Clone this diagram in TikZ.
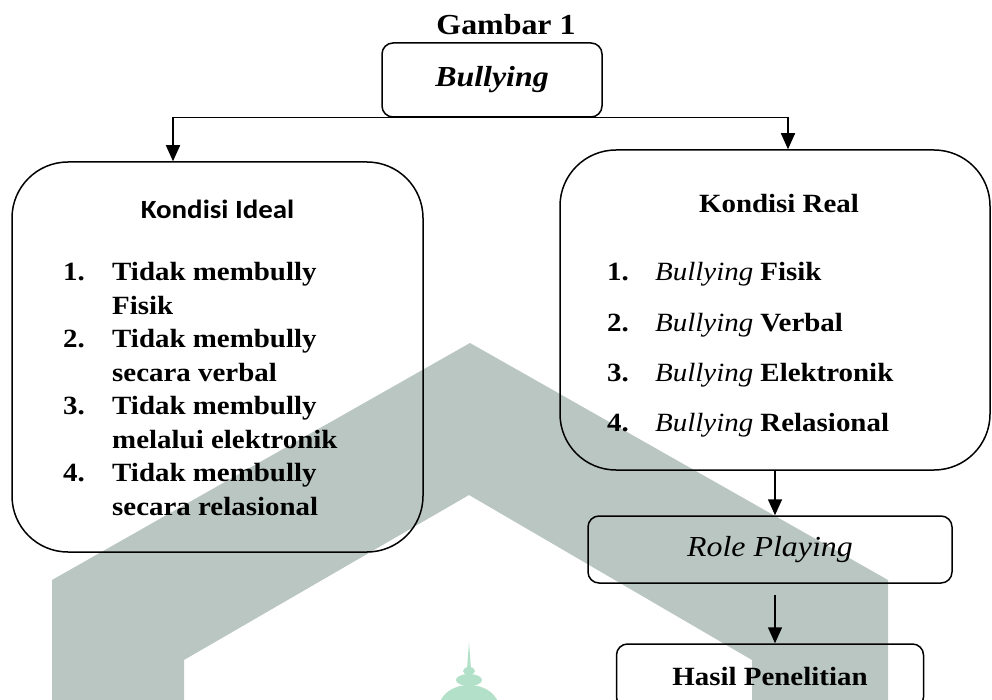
\documentclass[tikz,border=0pt]{standalone}
\usepackage{fontspec}
\setmainfont{Liberation Serif}[FakeStretch=1.1]
\newfontfamily\calibri{Carlito}[FakeStretch=1.1]
\usetikzlibrary{arrows.meta,positioning,calc}
\newcommand{\ukuran}{\fontsize{26.3}{31}\selectfont}
\newcommand{\ukuranbesar}{\fontsize{29}{34}\selectfont}
\definecolor{abumuda}{RGB}{186,198,193}
\definecolor{hijaumuda}{RGB}{178,224,200}
\tikzset{
  kotak/.style={draw,line width=1.5pt,rounded corners=11pt,inner sep=0pt,align=center},
  kotakbesar/.style={kotak,rounded corners=56pt},
  judul/.style={anchor=base,inner sep=0pt,font=\ukuran\bfseries},
  nomor/.style={anchor=base west,inner sep=0pt,font=\ukuran\bfseries},
  butir/.style={anchor=base west,inner sep=0pt,font=\ukuran\bfseries},
  panah/.style={-{Triangle[length=16pt,width=14pt]},line width=1.5pt},
}

\begin{document}
\begin{tikzpicture}[x=1pt,y=-1pt]
  \useasboundingbox (0,0) rectangle (992,700);
  \clip (0,0) rectangle (992,700);
  % watermark
  \fill[abumuda] (52,700) -- (52,580) -- (470,343) -- (888,580) -- (888,700)
    -- (752,700) -- (752,660) -- (469,495) -- (184,660) -- (184,700) -- cycle;
  \fill[hijaumuda] (469,642) -- (471,669) -- (467,669) -- cycle;
  \fill[hijaumuda] (469,671) ellipse (6 and 4);
  \fill[hijaumuda] (469,680) ellipse (13 and 6);
  \fill[hijaumuda] (469,708) ellipse (30 and 23);

  \node[judul,font=\ukuranbesar\bfseries] (gambar) at (506,35) {Gambar 1};
  \node[kotak,minimum width=220pt,minimum height=74pt,font=\ukuranbesar\bfseries\itshape]
    (bully) at (492,80) {Bullying};
  \node[kotakbesar,minimum width=411pt,minimum height=390pt] (ideal) at (217.5,357) {};
  \node[kotakbesar,minimum width=430pt,minimum height=320pt] (real) at (775,310) {};
  \node[kotak,minimum width=364pt,minimum height=67pt,font=\ukuranbesar\itshape]
    (role) at (770,549.5) {Role Playing};
  \node[kotak,minimum width=307pt,minimum height=64pt,font=\ukuran\bfseries]
    (hasil) at (770,676) {Hasil Penelitian};

  % isi kondisi ideal
  \node[judul,font=\calibri\ukuran\bfseries] (tideal) at (217.5,219) {Kondisi Ideal};
  \foreach \n/\a/\b [count=\i from 0] in {1/Tidak membully/Fisik,
      2/Tidak membully/secara verbal,3/Tidak membully/melalui elektronik,
      4/Tidak membully/secara relasional} {
    \node[nomor] (in\n) at (63,280+67.3*\i) {\n.};
    \node[butir] (ia\n) at (112,280+67.3*\i) {\a};
    \node[butir] (ib\n) at (112,314+67.3*\i) {\b};
  }

  % isi kondisi real
  \node[judul] (treal) at (779,213) {Kondisi Real};
  \foreach \t [count=\i] in {Fisik,Verbal,Elektronik,Relasional} {
    \node[nomor] (rn\i) at (607,231+50*\i) {\i.};
    \node[butir] (rb\i) at (655,231+50*\i) {{\mdseries\itshape Bullying} \t};
  }

  % panah
  \draw[panah] (bully.south) -| ([xshift=-44.5pt]ideal.north);
  \draw[panah] (bully.south) -| ([xshift=13pt]real.north);
  \draw[panah] (real.south) -- (real.south |- role.north);
  \coordinate (pangkal) at ([yshift=-11pt]role.south);
  \draw[panah] (real.south |- pangkal) -- (real.south |- hasil.north);
\end{tikzpicture}
\end{document}
